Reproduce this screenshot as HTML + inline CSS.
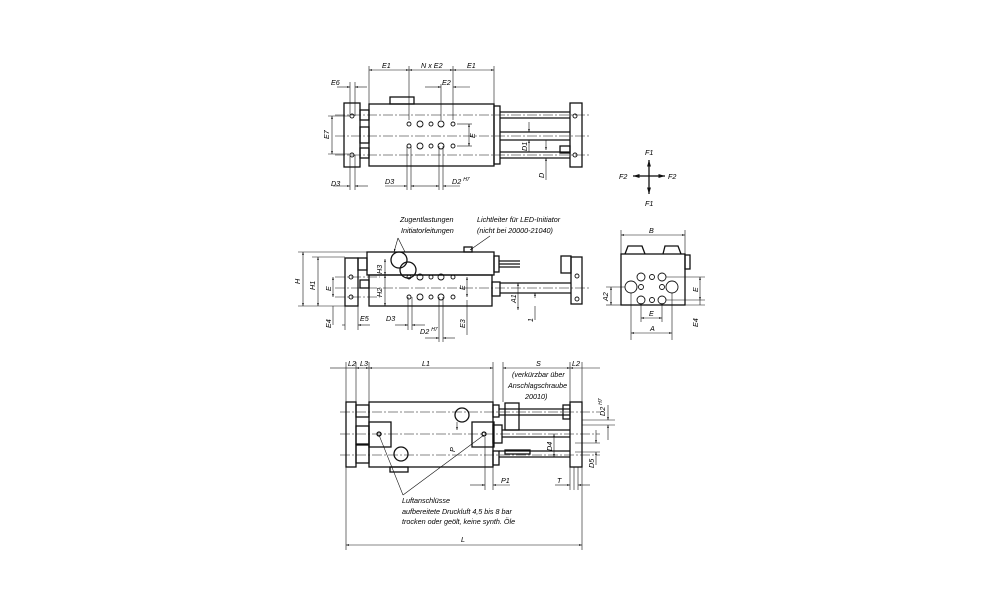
<!DOCTYPE html>
<html><head><meta charset="utf-8"><style>
html,body{margin:0;padding:0;background:#fff}
svg{display:block}
text{font-family:"Liberation Sans",sans-serif;font-style:italic;font-size:7.2px;fill:#000}
</style></head><body>
<svg width="1000" height="611" viewBox="0 0 1000 611" xmlns="http://www.w3.org/2000/svg">
<defs>
<marker id="a" viewBox="0 0 10 10" refX="10" refY="5" markerWidth="5" markerHeight="5" orient="auto-start-reverse"><path d="M0,2L10,5L0,8z" fill="#111"/></marker>
</defs>
<g fill="none" stroke="#111" stroke-width="1.3">
<!-- ===== TOP VIEW ===== -->
<rect x="344" y="103" width="16" height="64"/>
<rect x="369" y="104" width="125" height="62"/>
<rect x="570" y="103" width="12" height="64"/>
<rect x="390" y="97" width="24" height="7"/>
<rect x="360" y="110" width="9" height="10"/><rect x="360" y="127" width="9" height="16"/><rect x="360" y="148" width="9" height="10"/>
<rect x="494" y="106" width="6" height="58"/>
<line x1="500" y1="112" x2="570" y2="112"/><line x1="500" y1="118" x2="570" y2="118"/>
<line x1="500" y1="132" x2="570" y2="132"/><line x1="500" y1="140" x2="570" y2="140"/>
<line x1="500" y1="152" x2="570" y2="152"/><line x1="500" y1="158" x2="570" y2="158"/>
<rect x="560" y="146" width="10" height="7"/>
<g stroke-width="0.6" stroke-dasharray="10,2,2,2">
<line x1="335" y1="136" x2="590" y2="136"/><line x1="335" y1="115" x2="590" y2="115"/><line x1="335" y1="155" x2="590" y2="155"/>
</g>
<g stroke-width="0.9">
<circle cx="420" cy="124" r="3"/><circle cx="441" cy="124" r="3"/><circle cx="420" cy="146" r="3"/><circle cx="441" cy="146" r="3"/>
<circle cx="409" cy="124" r="2"/><circle cx="431" cy="124" r="2"/><circle cx="453" cy="124" r="2"/>
<circle cx="409" cy="146" r="2"/><circle cx="431" cy="146" r="2"/><circle cx="453" cy="146" r="2"/>
<circle cx="352" cy="116" r="2"/><circle cx="352" cy="155" r="2"/><circle cx="575" cy="116" r="2"/><circle cx="575" cy="155" r="2"/>
</g>
<g stroke-width="0.6">
<line x1="369" y1="66" x2="369" y2="104"/><line x1="409" y1="66" x2="409" y2="120"/><line x1="453" y1="66" x2="453" y2="120"/><line x1="494" y1="66" x2="494" y2="104"/><line x1="441" y1="84" x2="441" y2="120"/>
<line x1="369" y1="70" x2="409" y2="70" marker-start="url(#a)" marker-end="url(#a)"/>
<line x1="409" y1="70" x2="453" y2="70" marker-start="url(#a)" marker-end="url(#a)"/>
<line x1="453" y1="70" x2="494" y2="70" marker-start="url(#a)" marker-end="url(#a)"/>
<line x1="425" y1="87" x2="441" y2="87" marker-end="url(#a)"/><line x1="470" y1="87" x2="453" y2="87" marker-end="url(#a)"/>
<line x1="337" y1="87" x2="350" y2="87" marker-end="url(#a)"/><line x1="367" y1="87" x2="355" y2="87" marker-end="url(#a)"/>
<line x1="350" y1="82" x2="350" y2="116"/><line x1="355" y1="82" x2="355" y2="116"/>
<line x1="328" y1="116" x2="350" y2="116"/><line x1="328" y1="154" x2="350" y2="154"/>
<line x1="332" y1="116" x2="332" y2="154" marker-start="url(#a)" marker-end="url(#a)"/>
<line x1="350" y1="155" x2="350" y2="190"/><line x1="355" y1="155" x2="355" y2="190"/>
<line x1="333" y1="186" x2="350" y2="186" marker-end="url(#a)"/><line x1="368" y1="186" x2="355" y2="186" marker-end="url(#a)"/>
<line x1="407" y1="146" x2="407" y2="190"/><line x1="411" y1="146" x2="411" y2="190"/>
<line x1="385" y1="186" x2="407" y2="186" marker-end="url(#a)"/><line x1="425" y1="186" x2="411" y2="186" marker-end="url(#a)"/>
<line x1="439" y1="146" x2="439" y2="190"/><line x1="443" y1="146" x2="443" y2="190"/>
<line x1="425" y1="186" x2="439" y2="186" marker-end="url(#a)"/><line x1="460" y1="186" x2="443" y2="186" marker-end="url(#a)"/>
<line x1="457" y1="124" x2="472" y2="124"/><line x1="457" y1="146" x2="472" y2="146"/>
<line x1="469" y1="124" x2="469" y2="146" marker-start="url(#a)" marker-end="url(#a)"/>
<line x1="529" y1="122" x2="529" y2="132" marker-end="url(#a)"/><line x1="529" y1="152" x2="529" y2="140" marker-end="url(#a)"/>
<line x1="546" y1="140" x2="546" y2="150" marker-end="url(#a)"/><line x1="546" y1="180" x2="546" y2="158" marker-end="url(#a)"/>
</g>
<line x1="649" y1="176" x2="649" y2="160" marker-end="url(#a)"/><line x1="649" y1="176" x2="649" y2="194" marker-end="url(#a)"/>
<line x1="649" y1="176" x2="633" y2="176" marker-end="url(#a)"/><line x1="649" y1="176" x2="665" y2="176" marker-end="url(#a)"/>

<!-- ===== FRONT VIEW ===== -->
<rect x="345" y="258" width="13" height="48"/>
<rect x="367" y="252" width="127" height="23"/>
<rect x="369" y="275" width="123" height="31"/>
<rect x="571" y="257" width="11" height="47"/>
<circle cx="399" cy="260" r="8"/><circle cx="408" cy="270" r="8"/>
<rect x="464" y="247" width="8" height="5"/>
<rect x="358" y="258" width="9" height="12"/><rect x="360" y="280" width="9" height="8"/>
<rect x="494" y="256" width="5" height="16"/><line x1="499" y1="264" x2="520" y2="264"/><line x1="499" y1="261" x2="520" y2="261"/><line x1="499" y1="267" x2="520" y2="267"/>
<rect x="561" y="256" width="10" height="17"/>
<rect x="492" y="282" width="8" height="14"/>
<line x1="500" y1="283" x2="571" y2="283"/><line x1="500" y1="293" x2="571" y2="293"/>
<g stroke-width="0.6" stroke-dasharray="10,2,2,2">
<line x1="335" y1="288" x2="590" y2="288"/><line x1="335" y1="277" x2="380" y2="277"/><line x1="335" y1="297" x2="380" y2="297"/>
</g>
<g stroke-width="0.9">
<circle cx="420" cy="277" r="3"/><circle cx="441" cy="277" r="3"/><circle cx="420" cy="297" r="3"/><circle cx="441" cy="297" r="3"/>
<circle cx="409" cy="277" r="2"/><circle cx="431" cy="277" r="2"/><circle cx="453" cy="277" r="2"/>
<circle cx="409" cy="297" r="2"/><circle cx="431" cy="297" r="2"/><circle cx="453" cy="297" r="2"/>
<circle cx="351" cy="277" r="2"/><circle cx="351" cy="297" r="2"/><circle cx="577" cy="276" r="2"/><circle cx="577" cy="299" r="2"/>
</g>
<g stroke-width="0.6">
<line x1="398" y1="238" x2="405" y2="252"/><line x1="398" y1="238" x2="394" y2="252" marker-end="url(#a)"/>
<line x1="490" y1="236" x2="470" y2="250" marker-end="url(#a)"/>
<line x1="298" y1="252" x2="367" y2="252"/><line x1="298" y1="306" x2="345" y2="306"/><line x1="312" y1="257" x2="345" y2="257"/>
<line x1="303" y1="252" x2="303" y2="306" marker-start="url(#a)" marker-end="url(#a)"/>
<line x1="318" y1="257" x2="318" y2="306" marker-start="url(#a)" marker-end="url(#a)"/>
<line x1="333" y1="277" x2="333" y2="297" marker-start="url(#a)" marker-end="url(#a)"/>
<line x1="333" y1="306" x2="333" y2="325"/>
<line x1="342" y1="325" x2="345" y2="325"/><line x1="345" y1="306" x2="345" y2="330"/><line x1="358" y1="306" x2="358" y2="330"/>
<line x1="370" y1="325" x2="358" y2="325" marker-end="url(#a)"/>
<line x1="385" y1="259" x2="385" y2="275" marker-start="url(#a)" marker-end="url(#a)"/>
<line x1="385" y1="275" x2="385" y2="306" marker-start="url(#a)" marker-end="url(#a)"/>
<line x1="408" y1="297" x2="408" y2="330"/><line x1="412" y1="297" x2="412" y2="330"/>
<line x1="395" y1="325" x2="408" y2="325" marker-end="url(#a)"/><line x1="425" y1="325" x2="412" y2="325" marker-end="url(#a)"/>
<line x1="439" y1="297" x2="439" y2="342"/><line x1="443" y1="297" x2="443" y2="342"/>
<line x1="425" y1="338" x2="439" y2="338" marker-end="url(#a)"/><line x1="455" y1="338" x2="443" y2="338" marker-end="url(#a)"/>
<line x1="467" y1="277" x2="467" y2="297" marker-start="url(#a)" marker-end="url(#a)"/>
<line x1="467" y1="300" x2="467" y2="335"/>
<line x1="518" y1="283" x2="518" y2="310" marker-start="url(#a)" marker-end="url(#a)"/>
<line x1="535" y1="298" x2="535" y2="293" marker-end="url(#a)"/><line x1="535" y1="320" x2="535" y2="306" />
</g>

<!-- ===== SIDE VIEW ===== -->
<rect x="621" y="254" width="64" height="51"/>
<rect x="685" y="255" width="5" height="14"/>
<path d="M625 254 L628 246 L642 246 L645 254 M663 254 L665 246 L678 246 L681 254"/>
<g stroke-width="0.9">
<circle cx="631" cy="287" r="6"/><circle cx="672" cy="287" r="6"/>
<circle cx="641" cy="277" r="4"/><circle cx="662" cy="277" r="4"/><circle cx="641" cy="300" r="4"/><circle cx="662" cy="300" r="4"/>
<circle cx="652" cy="277" r="2.5"/><circle cx="652" cy="300" r="2.5"/><circle cx="641" cy="287" r="2.5"/><circle cx="662" cy="287" r="2.5"/>
</g>
<g stroke-width="0.6">
<line x1="621" y1="230" x2="621" y2="254"/><line x1="685" y1="230" x2="685" y2="254"/>
<line x1="621" y1="235" x2="685" y2="235" marker-start="url(#a)" marker-end="url(#a)"/>
<line x1="631" y1="293" x2="631" y2="340"/><line x1="672" y1="293" x2="672" y2="340"/>
<line x1="631" y1="333" x2="672" y2="333" marker-start="url(#a)" marker-end="url(#a)"/>
<line x1="641" y1="303" x2="641" y2="322"/><line x1="662" y1="303" x2="662" y2="322"/>
<line x1="641" y1="318" x2="662" y2="318" marker-start="url(#a)" marker-end="url(#a)"/>
<line x1="606" y1="287" x2="625" y2="287"/><line x1="606" y1="305" x2="621" y2="305"/>
<line x1="611" y1="287" x2="611" y2="305" marker-start="url(#a)" marker-end="url(#a)"/>
<line x1="666" y1="277" x2="705" y2="277"/><line x1="666" y1="300" x2="705" y2="300"/><line x1="685" y1="305" x2="705" y2="305"/>
<line x1="700" y1="277" x2="700" y2="300" marker-start="url(#a)" marker-end="url(#a)"/>
<line x1="700" y1="300" x2="700" y2="305"/>
</g>

<!-- ===== BOTTOM VIEW ===== -->
<rect x="346" y="402" width="10" height="65"/>
<rect x="369" y="402" width="124" height="65"/>
<rect x="570" y="402" width="12" height="65"/>
<rect x="369" y="422" width="22" height="25"/><rect x="472" y="422" width="22" height="25"/>
<rect x="356" y="405" width="13" height="12"/><rect x="356" y="445" width="13" height="18"/><rect x="356" y="426" width="13" height="18"/>
<rect x="390" y="467" width="18" height="5"/>
<circle cx="462" cy="415" r="7"/><circle cx="401" cy="454" r="7"/>
<circle cx="379" cy="434" r="2"/><circle cx="484" cy="434" r="2"/>
<rect x="493" y="405" width="6" height="12"/><rect x="493" y="425" width="9" height="18"/><rect x="493" y="451" width="6" height="14"/>
<line x1="499" y1="409" x2="570" y2="409"/><line x1="499" y1="415" x2="570" y2="415"/>
<line x1="502" y1="430" x2="570" y2="430"/><line x1="502" y1="437" x2="570" y2="437"/>
<line x1="499" y1="451" x2="570" y2="451"/><line x1="499" y1="457" x2="570" y2="457"/>
<rect x="563" y="405" width="7" height="14"/><rect x="505" y="403" width="14" height="27"/>
<rect x="505" y="450" width="25" height="4"/>
<g stroke-width="0.6" stroke-dasharray="10,2,2,2">
<line x1="340" y1="434" x2="600" y2="434"/><line x1="340" y1="412" x2="600" y2="412"/><line x1="340" y1="455" x2="600" y2="455"/>
</g>
<g stroke-width="0.6">
<line x1="346" y1="362" x2="346" y2="402"/><line x1="356" y1="362" x2="356" y2="402"/><line x1="369" y1="362" x2="369" y2="402"/>
<line x1="493" y1="362" x2="493" y2="402"/><line x1="503" y1="362" x2="503" y2="402"/><line x1="570" y1="362" x2="570" y2="402"/><line x1="582" y1="362" x2="582" y2="402"/>
<line x1="330" y1="368" x2="346" y2="368"/><line x1="346" y1="368" x2="356" y2="368"/><line x1="356" y1="368" x2="369" y2="368" marker-start="url(#a)" marker-end="url(#a)"/>
<line x1="369" y1="368" x2="493" y2="368" marker-start="url(#a)" marker-end="url(#a)"/>
<line x1="503" y1="368" x2="570" y2="368" marker-start="url(#a)" marker-end="url(#a)"/>
<line x1="570" y1="368" x2="600" y2="368" marker-start="url(#a)"/>
<line x1="346" y1="467" x2="346" y2="550"/><line x1="582" y1="467" x2="582" y2="550"/>
<line x1="346" y1="545" x2="582" y2="545" marker-start="url(#a)" marker-end="url(#a)"/>
<line x1="485" y1="437" x2="485" y2="490"/><line x1="493" y1="467" x2="493" y2="490"/>
<line x1="470" y1="485" x2="485" y2="485" marker-end="url(#a)"/><line x1="510" y1="485" x2="493" y2="485" marker-end="url(#a)"/>
<line x1="570" y1="467" x2="570" y2="490"/><line x1="574" y1="467" x2="574" y2="490"/><line x1="578" y1="467" x2="578" y2="490"/>
<line x1="555" y1="485" x2="570" y2="485" marker-end="url(#a)"/><line x1="590" y1="485" x2="578" y2="485" marker-end="url(#a)"/>
<line x1="457" y1="422" x2="457" y2="430" marker-end="url(#a)"/>
<line x1="582" y1="420" x2="615" y2="420"/><line x1="582" y1="425" x2="615" y2="425"/>
<line x1="608" y1="405" x2="608" y2="420" marker-end="url(#a)"/><line x1="608" y1="440" x2="608" y2="425" marker-end="url(#a)"/>
<line x1="554" y1="434" x2="554" y2="457" marker-start="url(#a)" marker-end="url(#a)"/>
<line x1="575" y1="443" x2="600" y2="443"/><line x1="575" y1="452" x2="600" y2="452"/>
<line x1="596" y1="430" x2="596" y2="443" marker-end="url(#a)"/><line x1="596" y1="465" x2="596" y2="452" marker-end="url(#a)"/>
<line x1="403" y1="495" x2="379" y2="435"/><line x1="403" y1="495" x2="484" y2="435"/>
</g>
</g>
<g>
<text x="382" y="68">E1</text><text x="421" y="68">N x E2</text><text x="467" y="68">E1</text>
<text x="442" y="85">E2</text><text x="331" y="85">E6</text>
<text x="331" y="186">D3</text><text x="385" y="184">D3</text><text x="452" y="184">D2 <tspan font-size="5" dy="-3">H7</tspan></text>
<text transform="translate(329,139) rotate(-90)">E7</text>
<text transform="translate(475,138) rotate(-90)">E</text>
<text transform="translate(527,151) rotate(-90)">D1</text>
<text transform="translate(544,178) rotate(-90)">D</text>
<text x="645" y="155">F1</text><text x="645" y="206">F1</text><text x="619" y="179">F2</text><text x="668" y="179">F2</text>
<text x="400" y="222">Zugentlastungen</text><text x="401" y="233">Initiatorleitungen</text>
<text x="477" y="222">Lichtleiter für LED-Initiator</text><text x="477" y="233">(nicht bei 20000-21040)</text>
<text transform="translate(300,284) rotate(-90)">H</text>
<text transform="translate(315,290) rotate(-90)">H1</text>
<text transform="translate(331,291) rotate(-90)">E</text>
<text transform="translate(331,328) rotate(-90)">E4</text>
<text x="360" y="321">E5</text><text x="386" y="321">D3</text>
<text x="420" y="334">D2 <tspan font-size="5" dy="-3">H7</tspan></text>
<text transform="translate(382,274) rotate(-90)">H3</text>
<text transform="translate(382,297) rotate(-90)">H2</text>
<text transform="translate(465,290) rotate(-90)">E</text>
<text transform="translate(465,328) rotate(-90)">E3</text>
<text transform="translate(516,303) rotate(-90)">A1</text>
<text transform="translate(533,322) rotate(-90)">1</text>
<text x="649" y="233">B</text>
<text x="650" y="331">A</text><text x="649" y="316">E</text>
<text transform="translate(608,301) rotate(-90)">A2</text>
<text transform="translate(698,292) rotate(-90)">E</text>
<text transform="translate(698,327) rotate(-90)">E4</text>
<text x="348" y="366">L2</text><text x="360" y="366">L3</text><text x="422" y="366">L1</text>
<text x="536" y="366">S</text><text x="572" y="366">L2</text>
<text x="512" y="377">(verkürzbar über</text><text x="508" y="388">Anschlagschraube</text><text x="525" y="399">20010)</text>
<text transform="translate(605,416) rotate(-90)">D2 <tspan font-size="5" dy="-3">H7</tspan></text>
<text transform="translate(552,451) rotate(-90)">D4</text>
<text transform="translate(594,468) rotate(-90)">D5</text>
<text transform="translate(455,452) rotate(-90)">P</text>
<text x="501" y="483">P1</text><text x="557" y="483">T</text>
<text x="402" y="503">Luftanschlüsse</text>
<text x="402" y="514">aufbereitete Druckluft 4,5 bis 8 bar</text>
<text x="402" y="524">trocken oder geölt, keine synth. Öle</text>
<text x="461" y="542">L</text>
</g>
</svg>
</body></html>
